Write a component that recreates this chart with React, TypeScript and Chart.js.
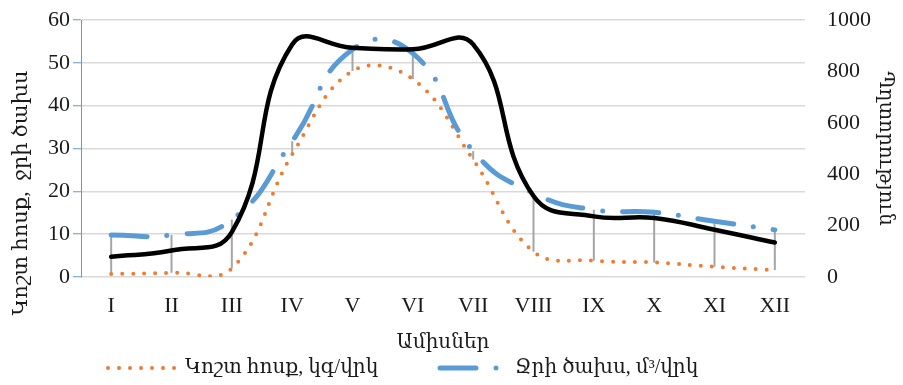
import React, { useEffect, useRef } from "react";
import { Chart, registerables } from "chart.js";

Chart.register(...registerables);

// ---- data ----
const MONTHS = ["I", "II", "III", "IV", "V", "VI", "VII", "VIII", "IX", "X", "XI", "XII"];
const SEDIMENT = [0.7, 1.0, 2.0, 28.6, 48.1, 46.2, 27.4, 5.9, 3.8, 3.4, 2.4, 1.6]; // կգ/վրկ
const DISCHARGE = [9.8, 9.8, 13.4, 31.7, 53.1, 52.2, 29.4, 19.6, 15.7, 15.1, 13.0, 11.0]; // մ³/վրկ
const TURBIDITY = [79, 103, 175, 905, 892, 886, 905, 315, 236, 230, 184, 134]; // right axis

const SEDIMENT_LABEL = "Կոշտ հոսք, կգ/վրկ";
const DISCHARGE_LABEL = "Ջրի ծախս, մ³/վրկ";
const TURBIDITY_LABEL = "Պղտորություն";
const X_TITLE = "Ամիսներ";
const LEFT_TITLE = "Կոշտ հոսք,  ջրի ծախս";
const RIGHT_TITLE = "Պղտորություն";

const LEFT_MAX = 60;
const LEFT_STEP = 10;
const RIGHT_MAX = 1000;
const RIGHT_STEP = 200;

// ---- styles ----
const ORANGE = "#ED7D31";
const BLUE = "#5B9BD5";
const BLACK = "#000000";
const GRID = "#d9d9d9";
const HILO = "#a5a5a5";
const TEXT = "#1a1a1a";
const FONT = "'Liberation Serif', 'DejaVu Serif', serif";

const hiLoPlugin = {
  id: "hiLo",
  beforeDatasetsDraw(chart: any) {
    const { ctx, scales } = chart;
    const xs = scales.x;
    const ys = scales.y;
    ctx.save();
    ctx.strokeStyle = HILO;
    ctx.lineWidth = 2;
    for (let i = 0; i < MONTHS.length; i++) {
      const x = xs.getPixelForValue(i);
      const hi = Math.max(SEDIMENT[i], DISCHARGE[i]);
      const lo = Math.min(SEDIMENT[i], DISCHARGE[i]);
      ctx.beginPath();
      ctx.moveTo(x, ys.getPixelForValue(hi));
      ctx.lineTo(x, ys.getPixelForValue(lo));
      ctx.stroke();
    }
    ctx.restore();
  },
};

const decorPlugin = {
  id: "decor",
  afterDraw(chart: any) {
    const { ctx } = chart;
    ctx.save();
    // left axis title
    ctx.fillStyle = TEXT;
    ctx.font = `21px ${FONT}`;
    ctx.textAlign = "center";
    ctx.textBaseline = "middle";
    ctx.translate(21, 193);
    ctx.rotate(-Math.PI / 2);
    ctx.fillText(LEFT_TITLE, 0, 0);
    ctx.restore();

    // legend
    const ly = 368;
    ctx.save();
    ctx.lineCap = "round";
    ctx.strokeStyle = ORANGE;
    ctx.lineWidth = 4;
    ctx.setLineDash([0, 11]);
    ctx.beginPath();
    ctx.moveTo(108, ly);
    ctx.lineTo(176, ly);
    ctx.stroke();

    ctx.strokeStyle = BLUE;
    ctx.lineWidth = 5;
    ctx.setLineDash([36, 20, 0, 20]);
    ctx.beginPath();
    ctx.moveTo(440, ly);
    ctx.lineTo(505, ly);
    ctx.stroke();

    ctx.setLineDash([]);
    ctx.fillStyle = TEXT;
    ctx.font = `20px ${FONT}`;
    ctx.textAlign = "left";
    ctx.textBaseline = "middle";
    ctx.fillText(SEDIMENT_LABEL, 185, ly);
    ctx.fillText(DISCHARGE_LABEL, 515, ly);
    ctx.restore();
  },
};

export default function App() {
  const ref = useRef<HTMLCanvasElement | null>(null);

  useEffect(() => {
    if (!ref.current) return;
    const chart = new Chart(ref.current, {
      type: "line",
      data: {
        labels: MONTHS,
        datasets: [
          {
            label: TURBIDITY_LABEL,
            data: TURBIDITY,
            yAxisID: "y1",
            borderColor: BLACK,
            borderWidth: 4.5,
            borderCapStyle: "round",
            borderJoinStyle: "round",
            tension: 0.45,
            pointRadius: 0,
            fill: false,
          },
          {
            label: DISCHARGE_LABEL,
            data: DISCHARGE,
            yAxisID: "y",
            borderColor: BLUE,
            borderWidth: 5,
            borderDash: [36, 20, 0, 20],
            borderCapStyle: "round",
            tension: 0.5,
            pointRadius: 0,
            fill: false,
          },
          {
            label: SEDIMENT_LABEL,
            data: SEDIMENT,
            yAxisID: "y",
            borderColor: ORANGE,
            borderWidth: 4,
            borderDash: [0, 11],
            borderCapStyle: "round",
            tension: 0.4,
            pointRadius: 0,
            fill: false,
          },
        ],
      },
      options: {
        animation: false,
        responsive: false,
        events: [],
        layout: { padding: { top: 20, left: 0, right: 0, bottom: 0 } },
        elements: { line: { capBezierPoints: false } },
        plugins: {
          legend: { display: false },
          tooltip: { enabled: false },
        },
        scales: {
          x: {
            type: "category",
            offset: true,
            grid: { display: false, drawTicks: false },
            border: { display: false },
            ticks: {
              color: TEXT,
              font: { family: FONT, size: 22 },
              padding: 16,
              maxRotation: 0,
              autoSkip: false,
            },
            title: {
              display: true,
              text: X_TITLE,
              color: TEXT,
              font: { family: FONT, size: 20 },
              padding: { top: 0, bottom: 30 },
            },
            afterFit: (s: any) => {
              s.height = 108;
            },
          },
          y: {
            position: "left",
            min: 0,
            max: LEFT_MAX,
            ticks: {
              stepSize: LEFT_STEP,
              color: TEXT,
              font: { family: FONT, size: 22 },
              padding: 3,
              callback: (v: any) => String(v),
            },
            grid: {
              color: GRID,
              lineWidth: 1.5,
              tickColor: BLUE,
              tickLength: 8,
              tickWidth: 1,
            },
            border: { color: BLUE, width: 1 },
            afterFit: (s: any) => {
              s.width = 81;
              s.paddingTop = 12;
              s.paddingBottom = 12;
            },
          },
          y1: {
            position: "right",
            min: 0,
            max: RIGHT_MAX,
            ticks: {
              stepSize: RIGHT_STEP,
              color: TEXT,
              font: { family: FONT, size: 22 },
              padding: 22,
              callback: (v: any) => String(v),
            },
            grid: { display: false, drawTicks: false },
            border: { display: false },
            title: {
              display: true,
              text: RIGHT_TITLE,
              color: TEXT,
              font: { family: FONT, size: 20 },
              padding: { top: 6, bottom: 0 },
            },
            afterFit: (s: any) => {
              s.width = 98;
              s.paddingTop = 12;
              s.paddingBottom = 12;
            },
          },
        },
      } as any,
      plugins: [hiLoPlugin, decorPlugin],
    });
    return () => chart.destroy();
  }, []);

  return (
    <div style={{ position: "fixed", left: 0, top: 0, width: 903, height: 385, background: "#fff" }}>
      <canvas ref={ref} width={903} height={385} style={{ width: 903, height: 385, display: "block" }} />
    </div>
  );
}
